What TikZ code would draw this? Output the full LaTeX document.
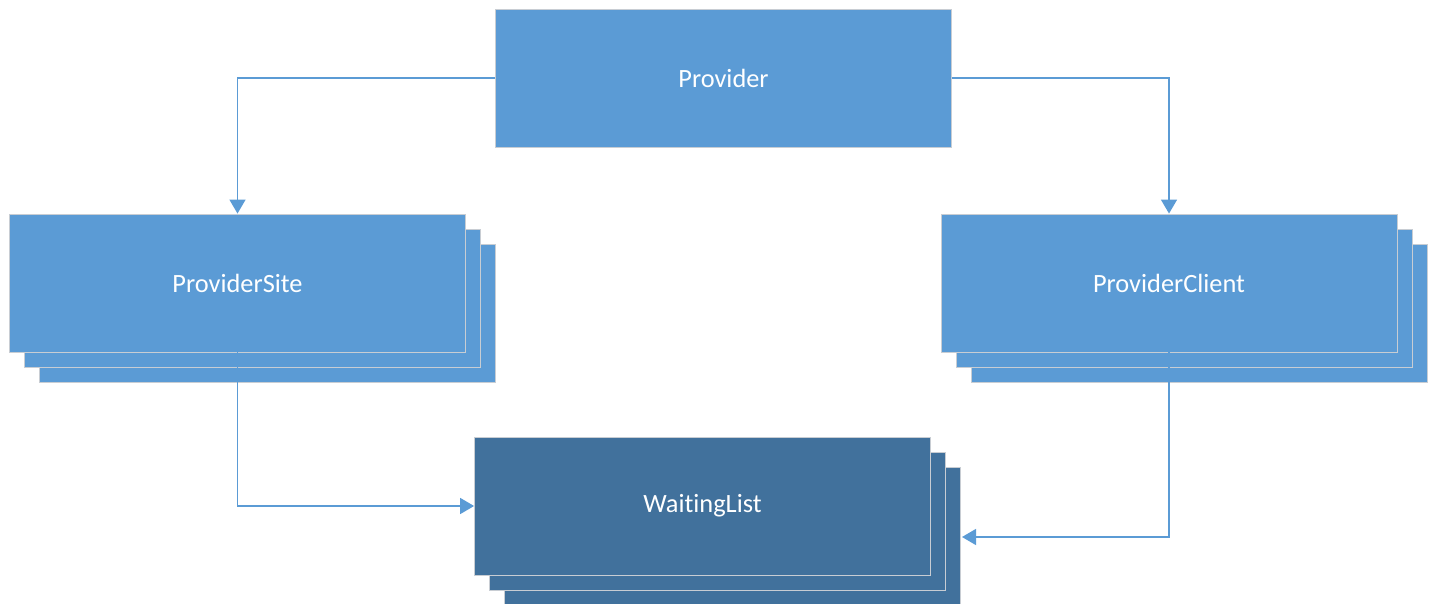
\documentclass[tikz,border=0pt]{standalone}
\usepackage{fontspec}
\setmainfont{Carlito}[Ligatures=NoCommon]
\usepackage{tikz}
\usetikzlibrary{shadows, arrows.meta}

\definecolor{boxblue}{HTML}{5B9BD5}
\definecolor{boxdark}{HTML}{41719C}
\definecolor{boxedge}{HTML}{C8CDD3}

\begin{document}
\begin{tikzpicture}[x=0.02cm, y=-0.02cm, >={Triangle[width=0.32cm,length=0.28cm]}, block/.style={
		% The shape:
		rectangle,
		% The size:
		minimum width=9.12cm, minimum height=2.76cm,
		% The border
		line width=0.5pt, draw=boxedge,
		% The filling
		fill=boxblue,
		% The text
		text=white, font=\fontsize{15}{18}\selectfont},
		stack/.style={block, double copy shadow={shadow xshift=0.3cm, shadow yshift=-0.3cm}},
		link/.style={draw=boxblue, line width=0.85pt}]
    \useasboundingbox (0,0) rectangle (1432,604);
    \node [block] (provider) at (723.5,78) {Provider};
    \node [stack] (site) at (237.5,283) {ProviderSite};
    \node [stack] (client) at (1169,283) {ProviderClient};
    \node [stack, fill=boxdark] (waiting) at (702.5,506) {WaitingList};
    % end of the line from the right, at the back copy of WaitingList
    \coordinate (waitingback) at (962,537);
    \draw [link, ->] (provider.west) -| (site.north);
    \draw [link, ->] (provider.east) -| (client.north);
    \draw [link, ->] (site.south) |- (waiting.west);
    \draw [link, ->] (client.south) |- (waitingback);
\end{tikzpicture}
\end{document}
